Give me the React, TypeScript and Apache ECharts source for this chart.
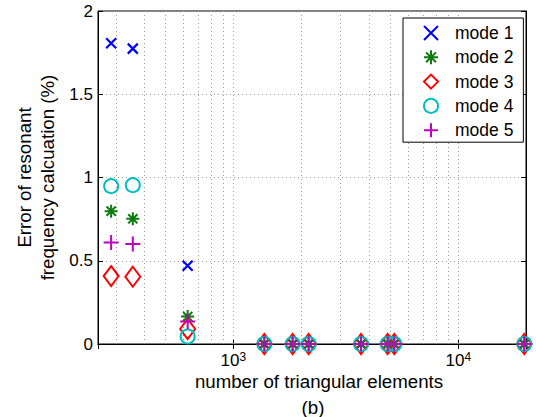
import React, { useEffect, useRef } from 'react';
import * as echarts from 'echarts';

// Number of triangular elements (x, log scale)
const elements = [286, 357, 626, 1373, 1834, 2161, 3695, 4851, 5195, 19650];
// Error of resonant frequency calculation (%) per mode
const mode1 = [1.806, 1.774, 0.47, 0, 0, 0, 0, 0, 0, 0];
const mode2 = [0.798, 0.752, 0.165, 0, 0, 0, 0, 0, 0, 0];
const mode3 = [0.408, 0.404, 0.09, 0, 0, 0, 0, 0, 0, 0];
const mode4 = [0.948, 0.954, 0.045, 0, 0, 0, 0, 0, 0, 0];
const mode5 = [0.61, 0.6, 0.135, 0, 0, 0, 0, 0, 0, 0];
const seriesNames = ['mode 1', 'mode 2', 'mode 3', 'mode 4', 'mode 5'];

const xMin = 250;
const xMax = 20000;
const yMin = 0;
const yMax = 2;
const yInterval = 0.5;
// log-axis grid positions (MATLAB style minor + major grid)
const xGridTicks = [300, 400, 500, 600, 700, 800, 900, 1000, 2000, 3000, 4000, 5000, 6000, 7000, 8000, 9000, 10000];

const FONT = '"Liberation Sans", Arial, Helvetica, sans-serif';

const CROSS = 'path://M0,0L10,10M0,10L10,0';
const ASTERISK = 'path://M5,0L5,10M0,5L10,5M1.46,1.46L8.54,8.54M1.46,8.54L8.54,1.46';
const PLUS = 'path://M5,0L5,10M0,5L10,5';

export default function App() {
  const ref = useRef<HTMLDivElement>(null);

  useEffect(() => {
    if (!ref.current) return;
    const chart = echarts.init(ref.current, null, { renderer: 'svg' });

    const pairs = (ys: number[]) => elements.map((x, i) => [x, ys[i]]);

    const markerSeries = [
      { name: seriesNames[0], data: pairs(mode1), symbol: CROSS, symbolSize: 10, color: '#0000ff', fill: '#0000ff', bw: 2.2 },
      { name: seriesNames[1], data: pairs(mode2), symbol: ASTERISK, symbolSize: 13, color: '#0d7a0d', fill: '#0d7a0d', bw: 2 },
      { name: seriesNames[2], data: pairs(mode3), symbol: 'diamond', symbolSize: [15, 20], color: '#ff0000', fill: 'rgba(0,0,0,0)', bw: 2 },
      { name: seriesNames[3], data: pairs(mode4), symbol: 'circle', symbolSize: 14, color: '#00bfbf', fill: 'rgba(0,0,0,0)', bw: 2 },
      { name: seriesNames[4], data: pairs(mode5), symbol: PLUS, symbolSize: 15, color: '#bf00bf', fill: '#bf00bf', bw: 2 },
    ].map((s) => ({
      type: 'scatter',
      name: s.name,
      data: s.data,
      symbol: s.symbol,
      symbolSize: s.symbolSize,
      clip: false,
      z: 3,
      itemStyle: { color: s.fill, borderColor: s.color, borderWidth: s.bw, opacity: 1 },
      emphasis: { disabled: true },
    }));

    const option: any = {
      animation: false,
      backgroundColor: '#ffffff',
      textStyle: { fontFamily: FONT },
      grid: {
        left: 98,
        right: 10,
        top: 11,
        bottom: 73,
        show: true,
        borderColor: '#000',
        borderWidth: 1,
        backgroundColor: 'transparent',
      },
      legend: {
        data: seriesNames,
        orient: 'vertical',
        left: 403,
        top: 18,
        padding: [6, 10, 3, 20],
        itemWidth: 14,
        itemHeight: 14,
        itemGap: 6.3,
        backgroundColor: '#fff',
        borderColor: '#000',
        borderWidth: 1,
        borderRadius: 0,
        selectedMode: false,
        textStyle: { fontFamily: FONT, fontSize: 17.5, color: '#000', lineHeight: 16, padding: [0, 0, 0, 12] },
        itemStyle: { borderWidth: 2 },
      },
      xAxis: [
        {
          type: 'log',
          logBase: 10,
          min: xMin,
          max: xMax,
          position: 'bottom',
          name: 'number of triangular elements',
          nameLocation: 'middle',
          nameGap: 28,
          nameMoveOverlap: false,
          nameTextStyle: { fontFamily: FONT, fontSize: 18.7, color: '#000', padding: [0, 0, 0, 14] },
          axisLine: { show: true, lineStyle: { color: '#000', width: 1 } },
          axisTick: { show: true, inside: true, length: 5, lineStyle: { color: '#000' } },
          splitLine: { show: false },
          axisLabel: {
            show: true,
            margin: 7,
            color: '#000',
            showMinLabel: false,
            showMaxLabel: false,
            formatter: (v: number) => {
              const e = Math.log10(v);
              if (Math.abs(e - Math.round(e)) > 1e-6) return '';
              return `{b|10}{s|${Math.round(e)}}`;
            },
            rich: {
              b: { fontFamily: FONT, fontSize: 17, lineHeight: 18, verticalAlign: 'bottom', color: '#000' },
              s: { fontFamily: FONT, fontSize: 12, lineHeight: 12, verticalAlign: 'top', color: '#000' },
            },
          },
        },
        {
          type: 'log',
          logBase: 10,
          min: xMin,
          max: xMax,
          position: 'top',
          axisLine: { show: true, lineStyle: { color: '#000', width: 1 } },
          axisTick: { show: true, inside: true, length: 5, lineStyle: { color: '#000' } },
          axisLabel: { show: false },
          splitLine: { show: false },
        },
      ],
      yAxis: [
        {
          type: 'value',
          min: yMin,
          max: yMax,
          interval: yInterval,
          position: 'left',
          name: 'Error of resonant\nfrequency calcuation (%)',
          nameLocation: 'middle',
          nameGap: 39.5,
          nameMoveOverlap: false,
          nameTextStyle: { fontFamily: FONT, fontSize: 18.7, color: '#000', lineHeight: 23, align: 'center' },
          axisLine: { show: true, lineStyle: { color: '#000', width: 1 } },
          axisTick: { show: true, inside: true, length: 5, lineStyle: { color: '#000' } },
          axisLabel: { color: '#000', fontSize: 17, margin: 5, fontFamily: FONT },
          splitLine: { show: true, lineStyle: { type: [1, 3], color: '#9a9a9a', width: 1 } },
        },
        {
          type: 'value',
          min: yMin,
          max: yMax,
          interval: yInterval,
          position: 'right',
          axisLine: { show: true, lineStyle: { color: '#000', width: 1 } },
          axisTick: { show: true, inside: true, length: 5, lineStyle: { color: '#000' } },
          axisLabel: { show: false },
          splitLine: { show: false },
        },
      ],
      series: [
        {
          type: 'line',
          name: 'grid',
          data: [],
          z: 1,
          silent: true,
          markLine: {
            z: 1,
            silent: true,
            animation: false,
            symbol: ['none', 'none'],
            label: { show: false },
            emphasis: { disabled: true },
            lineStyle: { type: [1, 3], color: '#9a9a9a', width: 1 },
            data: xGridTicks.map((v) => ({ xAxis: v })),
          },
        },
        ...markerSeries,
      ],
      graphic: [
        {
          type: 'text',
          x: 313,
          y: 407,
          style: {
            text: '(b)',
            fontFamily: FONT,
            fontSize: 18.7,
            fill: '#000',
            align: 'center',
            verticalAlign: 'middle',
          },
        },
      ],
    };

    chart.setOption(option);
    return () => chart.dispose();
  }, []);

  return (
    <div
      ref={ref}
      style={{ position: 'absolute', left: 0, top: 0, width: 536, height: 417, background: '#fff' }}
    />
  );
}
